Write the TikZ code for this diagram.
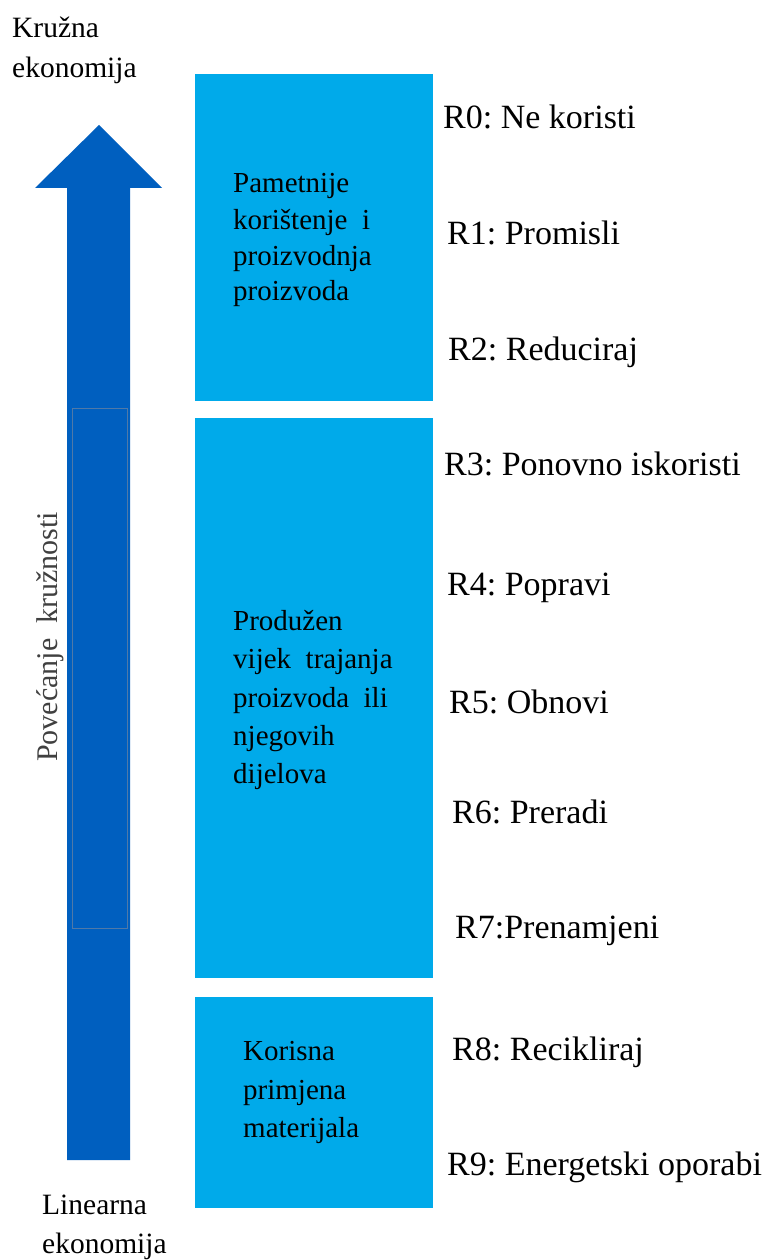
\documentclass[tikz,border=0pt]{standalone}
\usepackage{fontspec}
\setmainfont{Liberation Serif}
\frenchspacing
\definecolor{boxblue}{HTML}{00AAEA}
\definecolor{arrowblue}{HTML}{005FBF}
\definecolor{innerline}{HTML}{4F79A8}
\definecolor{sidegray}{HTML}{404040}
\begin{document}
\begin{tikzpicture}[x=1pt,y=-1pt,
  groupbox/.style={fill=boxblue,draw=none},
  rlabel/.style={anchor=base west,inner sep=0pt,font=\fontsize{34}{39}\selectfont},
  btext/.style={anchor=base west,inner sep=0pt,font=\fontsize{29}{36}\selectfont},
  etext/.style={anchor=base west,inner sep=0pt,font=\fontsize{29.5}{36}\selectfont}]
\useasboundingbox (0,0) rectangle (766,1260);
\fill[white] (0,0) rectangle (766,1260);
% boxes
\path[groupbox] (195,74) rectangle (433,401) node[pos=0,inner sep=0pt] (b1) {};
\path[groupbox] (195,418) rectangle (433,978) node[pos=0,inner sep=0pt] (b2) {};
\path[groupbox] (195,997) rectangle (433,1208) node[pos=0,inner sep=0pt] (b3) {};
% arrow
\fill[arrowblue] (67,1160) -- (67,188) -- (35,188) -- (99,125) -- (162,188) -- (130,188) -- (130,1160) -- cycle;
\draw[innerline,line width=0.8pt] (72,408) rectangle (127,928);
\node[anchor=base,inner sep=0pt,rotate=90,text=sidegray,font=\fontsize{30}{36}\selectfont] (side) at (57,637) {Povećanje\ \ kružnosti};
% end labels
\node[etext] (k1) at (12,38) {Kružna};
\node[etext] (k2) at (12,78) {ekonomija};
\node[etext] (l1) at (42,1214) {Linearna};
\node[etext] (l2) at (42,1253) {ekonomija};
% box texts
\node[btext] (t11) at (233,193) {Pametnije};
\node[btext] (t12) at (233,229) {korištenje\ \ i};
\node[btext] (t13) at (233,265) {proizvodnja};
\node[btext] (t14) at (233,300) {proizvoda};
\node[btext] (t21) at (233,630) {Produžen};
\node[btext] (t22) at (233,668) {vijek\ \ trajanja};
\node[btext] (t23) at (233,707) {proizvoda\ \ ili};
\node[btext] (t24) at (233,745) {njegovih};
\node[btext] (t25) at (233,783) {dijelova};
\node[btext] (t31) at (243,1060) {Korisna};
\node[btext] (t32) at (243,1099) {primjena};
\node[btext] (t33) at (243,1137) {materijala};
% R labels
\node[rlabel] (r0) at (443,129) {R0: Ne koristi};
\node[rlabel] (r1) at (447,244) {R1: Promisli};
\node[rlabel] (r2) at (448,360) {R2: Reduciraj};
\node[rlabel] (r3) at (444,475) {R3: Ponovno iskoristi};
\node[rlabel] (r4) at (447,595) {R4: Popravi};
\node[rlabel] (r5) at (449,713) {R5: Obnovi};
\node[rlabel] (r6) at (452,823) {R6: Preradi};
\node[rlabel] (r7) at (455,938) {R7:Prenamjeni};
\node[rlabel] (r8) at (452,1060) {R8: Recikliraj};
\node[rlabel] (r9) at (447,1175) {R9: Energetski oporabi};
\end{tikzpicture}
\end{document}
